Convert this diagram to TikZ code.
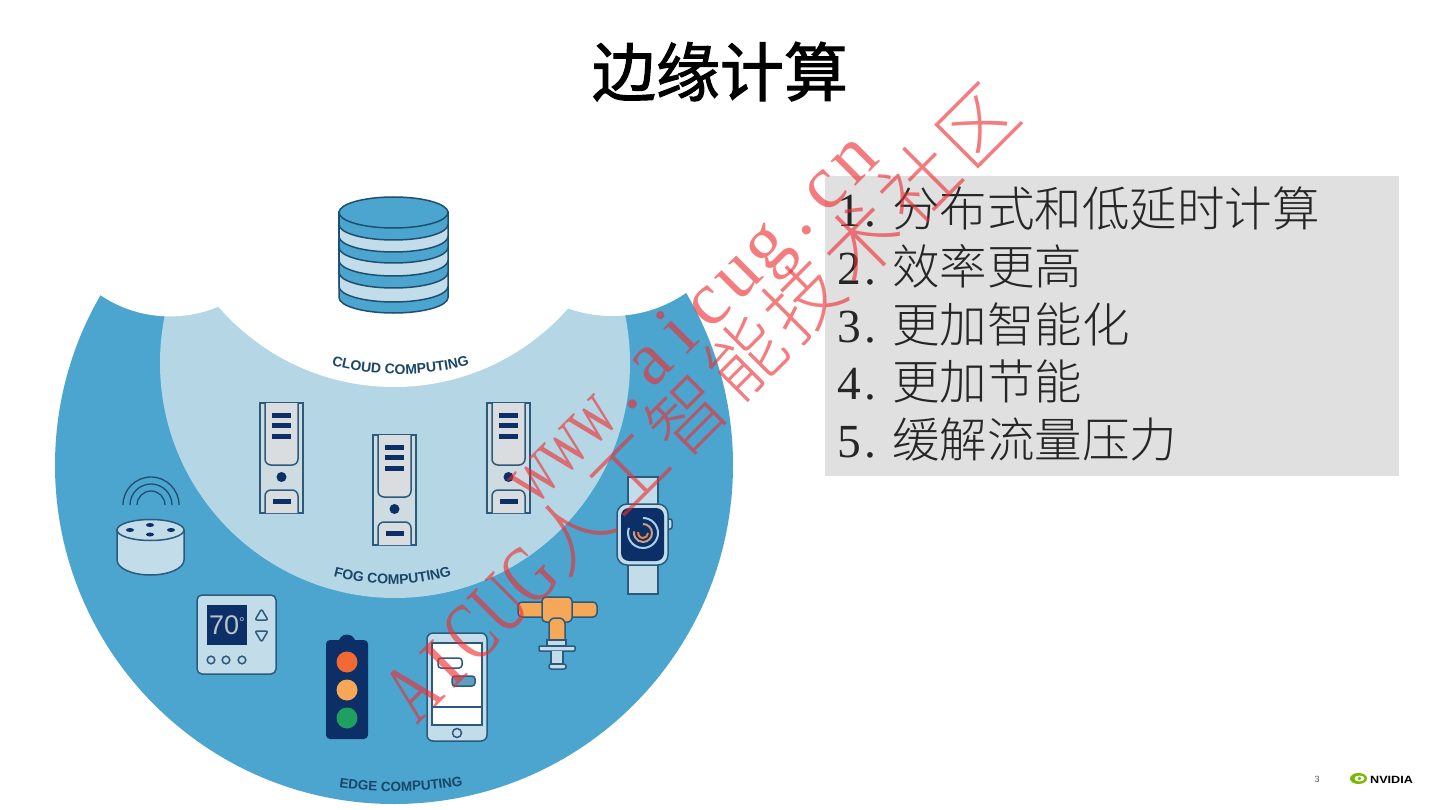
\documentclass[tikz,border=0pt]{standalone}
\usepackage{fontspec}
\usetikzlibrary{decorations.text}
\setmainfont{Liberation Serif}
\newfontfamily\cjk{Noto Sans CJK SC Light}
\newfontfamily\cjkt[FakeBold=1.6]{Noto Sans CJK SC}
\newfontfamily\lab{Liberation Sans}
\definecolor{edgeblue}{HTML}{4BA5CE}
\definecolor{fogblue}{HTML}{B5D7E5}
\definecolor{navy}{HTML}{0B2F66}
\definecolor{lineblue}{HTML}{2C5A7C}
\definecolor{darkline}{HTML}{1F4F70}
\definecolor{labelblue}{HTML}{1A4668}
\definecolor{paleblue}{HTML}{C3DCE9}
\definecolor{srvgray}{HTML}{D9DDE0}
\definecolor{boxgray}{HTML}{E0E0E0}
\definecolor{wmred}{HTML}{F02C30}
\definecolor{tapor}{HTML}{F5A857}
\definecolor{nvgreen}{HTML}{76B900}
\definecolor{lightred}{HTML}{F26A33}
\definecolor{lightgreen}{HTML}{1FA05E}
\definecolor{bubble}{HTML}{5DA0C4}
\definecolor{ringtan}{HTML}{C9A184}
\definecolor{ringor}{HTML}{F08040}
\definecolor{lcdgray}{HTML}{BCC2C8}
\tikzset{
  ln/.style={draw=lineblue,line width=1.5pt},
  srvbar/.style={fill=navy},
  listline/.style={anchor=base west,inner sep=0pt,text=black!85},
  wmark/.style={anchor=base west,inner sep=0pt,rotate=45,text=wmred,text opacity=.62},
}
\newcommand{\fs}[1]{\fontsize{#1}{#1}\selectfont}
\newcommand{\wm}[1]{\makebox[41pt]{\scalebox{.68}[1]{#1}}}
\newcommand{\wn}[1]{\makebox[41pt]{\fs{76}#1}}
\newcommand{\wc}[1]{\makebox[82pt]{\cjk\fs{76}#1}}
\newcommand{\num}[1]{\makebox[55pt][l]{\fs{47.5}#1\kern4pt.}}
\newcommand{\srv}[2]{%
  \begin{scope}[shift={(#1,#2)}]
    \draw[ln,fill=srvgray!70!fogblue] (0,0) rectangle (43,110);
    \draw[ln,fill=srvgray,rounded corners=6pt] (5,0) -- (5,62) -- (38,62) -- (38,0);
    \fill[srvbar] (12,9.5) rectangle (31,14.5);
    \fill[srvbar] (12,20) rectangle (31,25);
    \fill[srvbar] (12,30.5) rectangle (31,35.5);
    \fill[navy] (21.5,74) circle (5);
    \draw[ln,fill=srvgray,rounded corners=6pt] (5,110) -- (5,87) -- (38,87) -- (38,110);
    \fill[srvbar] (13,96) rectangle (31,101);
  \end{scope}}
\newcommand{\band}[2]{%
  \draw[draw=darkline,line width=1.5pt,fill=#2] (339,212.5) -- (339,#1) arc[start angle=180,end angle=360,x radius=54.5pt,y radius=15.5pt] -- (448,212.5) -- cycle;}
\begin{document}
\begin{tikzpicture}[x=1pt,y=-1pt]
\useasboundingbox (0,0) rectangle (1440,810);
\fill[white] (0,0) rectangle (1440,810);
% discs
\fill[edgeblue] (394,465) circle (339);
\fill[fogblue] (395,363) circle (235);
\fill[white] (394,155) circle (232);
\fill[white] (170,192) circle (124.4);
\fill[white] (612,186) circle (130);
\fill[white] (0,0) rectangle (800,190);
% database
\band{297.5}{edgeblue}
\band{286.5}{paleblue}
\band{272.5}{edgeblue}
\band{260.5}{paleblue}
\band{247.5}{edgeblue}
\band{236.5}{paleblue}
\band{224.5}{edgeblue}
\draw[draw=darkline,line width=1.5pt,fill=edgeblue] (393.5,212.5) ellipse (54.5 and 15.5);
% curved labels
\path[decorate,decoration={text along path,text align=center,text={|\lab\bfseries\fs{14}\color{labelblue}|CLOUD COMPUTING}}] (331,365) .. controls (375,377) and (425,377) .. (470,365);
\path[decorate,decoration={text along path,text align=center,text={|\lab\bfseries\fs{14}\color{labelblue}|FOG COMPUTING}}] (332,576) .. controls (372,587) and (412,587) .. (453,575);
\path[decorate,decoration={text along path,text align=center,text={|\lab\bfseries\fs{13.5}\color{labelblue}|EDGE COMPUTING}}] (338,787) .. controls (378,793) and (422,793) .. (464,785);
% servers
\srv{260}{403}
\srv{373}{435}
\srv{487}{403}
% speaker
\draw[ln,fill=paleblue] (117,530) -- (117,560) arc[start angle=180,end angle=360,x radius=33.5pt,y radius=15pt] -- (184,530) -- cycle;
\draw[ln,fill=paleblue] (150.5,530) ellipse (33.5 and 10.5);
\foreach \px/\py in {130/530,150/525,150/534.5,171/530}{\fill[navy] (\px,\py) ellipse (4 and 2);}
\foreach \r in {28,21,14}{\draw[draw=darkline,line width=1.3pt] ({151-\r},505) arc[start angle=180,end angle=0,radius=\r pt];}
% thermostat
\draw[ln,fill=paleblue,rounded corners=5pt] (197,595) rectangle (276,674);
\fill[navy] (207,605) rectangle (247,645);
\node (temp) at (227,625.5) [inner sep=0pt,text=lcdgray] {\lab\fs{27}70\raisebox{7pt}{\fs{14}°}};
\draw[ln,line join=round,rounded corners=2pt] (255,620) -- (268,620) -- (261.5,609) -- cycle;
\draw[ln,line join=round,rounded corners=2pt] (255,631) -- (268,631) -- (261.5,642) -- cycle;
\foreach \px in {211,226,242}{\draw[ln] (\px,660) circle (3.8);}
% traffic light
\fill[navy] (347,643) circle (8.5);
\fill[navy,rounded corners=4pt] (326,640) rectangle (368,739);
\fill[lightred] (347,662) circle (10.5);
\fill[tapor] (347,690) circle (10.5);
\fill[lightgreen] (347,718) circle (10.5);
% phone
\draw[ln,fill=paleblue,rounded corners=6pt] (427,633) rectangle (487,741);
\draw[ln,fill=white] (432,643) rectangle (482,725);
\draw[ln] (432,707) -- (482,707);
\draw[ln,fill=white,rounded corners=3pt] (438,658) rectangle (462,668);
\draw[ln,fill=bubble,rounded corners=3pt] (452,676) rectangle (475,686);
\draw[ln] (457,733) circle (4.5);
% tap
\draw[ln,fill=tapor,rounded corners=4pt] (518,602) rectangle (597,617);
\draw[ln,fill=tapor,rounded corners=4pt] (542,597) rectangle (572,622);
\draw[ln,fill=tapor,rounded corners=6pt] (549,641) -- (549,618) -- (565,618) -- (565,641);
\draw[ln,fill=paleblue] (547,640) rectangle (566,646);
\draw[ln,fill=paleblue,rounded corners=1pt] (539,646) rectangle (575,651);
\draw[ln,fill=paleblue] (551,651) -- (551,664) -- (563,664) -- (563,651);
\draw[ln,fill=paleblue,rounded corners=2pt] (549,664) rectangle (566,669);
% watch
\draw[ln,fill=paleblue] (628,477) rectangle (658,506);
\draw[ln,fill=paleblue] (628,565) rectangle (658,594);
\draw[ln,fill=paleblue,rounded corners=2pt] (666,519) rectangle (672,529);
\draw[ln,fill=paleblue,rounded corners=10pt] (617,504) rectangle (668,565);
\fill[navy,rounded corners=8pt] (621,508) rectangle (664,561);
\draw[paleblue!80!edgeblue,line width=2pt] (643,518) arc[start angle=90,end angle=-200,radius=15pt];
\draw[ringtan,line width=2pt] (643,524) arc[start angle=90,end angle=-190,radius=9pt];
\draw[ringor,line width=2pt] (648,533) arc[start angle=0,end angle=-190,radius=5pt];
% title
\node (title) at (720,96) [anchor=base,inner sep=0pt] {\cjkt\fs{64}边缘计算};
% list box
\fill[boxgray] (825,176) rectangle (1399,476);
\node (l1) at (837,226.5) [listline] {\num{1}\cjk\fs{47.5}分布式和低延时计算};
\node (l2) at (837,284.5) [listline] {\num{2}\cjk\fs{47.5}效率更高};
\node (l3) at (837,342) [listline] {\num{3}\cjk\fs{47.5}更加智能化};
\node (l4) at (837,399.5) [listline] {\num{4}\cjk\fs{47.5}更加节能};
\node (l5) at (837,457.5) [listline] {\num{5}\cjk\fs{47.5}缓解流量压力};
% footer
\node (pg) at (1317,779) [inner sep=0pt,text=black!65] {\lab\fs{9}3};
\fill[nvgreen] (1358.5,778.5) ellipse (8.5 and 5.5);
\fill[white] (1359.5,778.5) ellipse (5 and 3);
\fill[nvgreen] (1359.5,778.5) circle (1.8);
\node (nv) at (1370,783) [anchor=base west,inner sep=0pt] {\lab\bfseries\fs{10.5}\scalebox{1.2}[1]{NVIDIA}};
% watermark
\node (wm1) at (417.5,725.5) [wmark] {\fs{84}\wm{A}\wn{I}\wm{C}\wm{U}\wm{G}\wc{人}\wc{工}\wc{智}\wc{能}\wc{技}\wc{术}\wc{社}\wc{区}};
\node (wm2) at (534,508) [wmark] {\fs{84}\wm{w}\wm{w}\wm{w}\wn{.}\wn{a}\wn{i}\wn{c}\wn{u}\wn{g}\wn{.}\wn{c}\wn{n}};
\end{tikzpicture}
\end{document}
